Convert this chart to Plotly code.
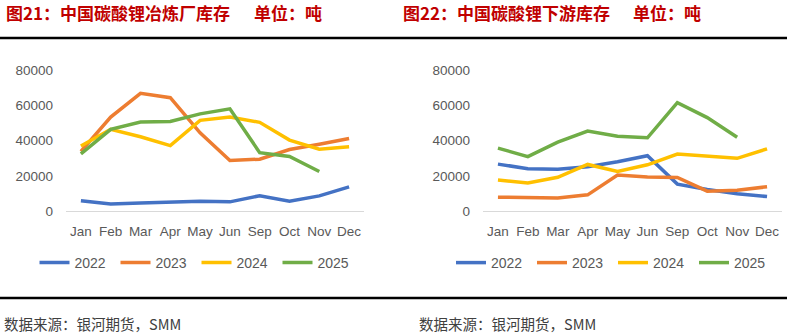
import plotly.graph_objects as go

months = ["Jan", "Feb", "Mar", "Apr", "May", "Jun", "Sep", "Oct", "Nov", "Dec"]
years = ["2022", "2023", "2024", "2025"]
colors = ["#4472C4", "#ED7D31", "#FFC000", "#70AD47"]

# 图21 中国碳酸锂冶炼厂库存 (吨)
smelter_2022 = [5900, 4000, 4500, 5000, 5600, 5200, 8700, 5600, 8600, 13700]
smelter_2023 = [34000, 53500, 67000, 64500, 44500, 28800, 29500, 35000, 38000, 41300]
smelter_2024 = [37000, 46500, 42300, 37200, 51600, 53500, 50500, 40400, 35200, 36600]
smelter_2025 = [32500, 46500, 50700, 51000, 55300, 58200, 33200, 31000, 22500, None]

# 图22 中国碳酸锂下游库存 (吨)
down_2022 = [26700, 24100, 23800, 25200, 28000, 31500, 15300, 12200, 9800, 8200]
down_2023 = [7900, 7700, 7400, 9200, 20500, 19400, 19100, 11300, 11800, 13800]
down_2024 = [17600, 16000, 19200, 26500, 22500, 26300, 32400, 31300, 30000, 35400]
down_2025 = [35800, 31000, 39200, 45500, 42600, 41700, 61700, 53200, 42000, None]

left_series = [smelter_2022, smelter_2023, smelter_2024, smelter_2025]
right_series = [down_2022, down_2023, down_2024, down_2025]

W, H = 787, 335
def px(x):
    return x / W
def py(y):
    return (H - y) / H

fig = go.Figure()
for name, col, vals in zip(years, colors, left_series):
    fig.add_trace(go.Scatter(x=months, y=vals, name=name, mode="lines",
                             line=dict(color=col, width=3.5),
                             xaxis="x", yaxis="y", legend="legend"))
for name, col, vals in zip(years, colors, right_series):
    fig.add_trace(go.Scatter(x=months, y=vals, name=name, mode="lines",
                             line=dict(color=col, width=3.5),
                             xaxis="x2", yaxis="y2", legend="legend2"))

tickfont = dict(family="Liberation Sans, Arial, sans-serif", size=13.5, color="#595959")
xcommon = dict(type="category", range=[-0.5, 9.5], showgrid=False, zeroline=False,
               showline=True, linecolor="#D9D9D9", linewidth=1, ticks="",
               tickfont=tickfont, ticklabelstandoff=8, fixedrange=True, automargin=False)
ycommon = dict(range=[0, 80000], tickvals=[0, 20000, 40000, 60000, 80000],
               ticktext=["0", "20000", "40000", "60000", "80000"],
               showgrid=False, zeroline=False, showline=False, ticks="",
               tickfont=tickfont, ticklabelstandoff=12, fixedrange=True, automargin=False)

legcommon = dict(orientation="h", yanchor="middle", y=py(263), xanchor="left",
                 font=dict(family="Liberation Sans, Arial, sans-serif", size=14, color="#595959"),
                 bgcolor="rgba(0,0,0,0)", borderwidth=0,
                 entrywidth=36, entrywidthmode="pixels", itemwidth=30,
                 traceorder="normal")

fig.update_layout(
    template="none",
    width=W, height=H,
    margin=dict(l=0, r=0, t=0, b=0, pad=0, autoexpand=False),
    paper_bgcolor="white", plot_bgcolor="white",
    xaxis=dict(domain=[px(66), px(364)], anchor="y", **xcommon),
    yaxis=dict(domain=[py(211), py(70.5)], anchor="x", **ycommon),
    xaxis2=dict(domain=[px(483), px(782)], anchor="y2", **xcommon),
    yaxis2=dict(domain=[py(211), py(70.5)], anchor="x2", **ycommon),
    legend=dict(x=px(34.5), **legcommon),
    legend2=dict(x=px(451), **legcommon),
    showlegend=True,
)

title_font = dict(family="Noto Sans CJK SC", size=17, color="#C00000")
src_font = dict(family="Noto Sans CJK SC", size=14.5, color="#404040")
anns = [
    dict(text="<b>图21：中国碳酸锂冶炼厂库存</b>", x=px(4), y=py(12)),
    dict(text="<b>单位：吨</b>", x=px(252), y=py(12)),
    dict(text="<b>图22：中国碳酸锂下游库存</b>", x=px(401), y=py(12)),
    dict(text="<b>单位：吨</b>", x=px(631), y=py(12)),
]
for a in anns:
    fig.add_annotation(xref="paper", yref="paper", xanchor="left", yanchor="middle",
                       showarrow=False, font=title_font, **a)
for xx in [3, 418]:
    fig.add_annotation(text="数据来源：银河期货，SMM", xref="paper", yref="paper",
                       x=px(xx), y=py(323.5), xanchor="left", yanchor="middle",
                       borderpad=0, showarrow=False, font=src_font)

for yy in [38, 298]:
    fig.add_shape(type="line", xref="paper", yref="paper", x0=0, x1=1,
                  y0=py(yy), y1=py(yy), line=dict(color="black", width=2.5))

fig.write_html("out.html")
